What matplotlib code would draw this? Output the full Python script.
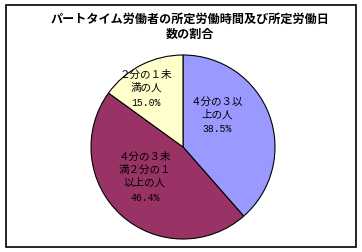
import numpy as np
import matplotlib
matplotlib.use("Agg")
import matplotlib.pyplot as plt
from matplotlib.patches import Rectangle

plt.rcParams["font.family"] = ["Noto Sans CJK JP", "DejaVu Sans"]

TITLE = "パートタイム労働者の所定労働時間及び所定労働日\n数の割合"
LABELS = ["４分の３以\n上の人", "４分の３未\n満２分の１\n以上の人", "２分の１未\n満の人"]
SHARES = [38.5, 46.4, 15.0]
COLORS = ["#9999ff", "#993366", "#ffffcc"]
# label position inside each wedge (radius fraction, angle in degrees)
LABEL_POS = [(0.51, 44), (0.52, 217), (0.76, 122)]

W, H = 362, 253
fig = plt.figure(figsize=(W / 100, H / 100), dpi=100)
fig.patch.set_facecolor("white")
fig.patches.append(Rectangle((5.5 / W, 5.5 / H), 350.5 / W, 242 / H,
                             transform=fig.transFigure, fill=False,
                             edgecolor="black", lw=1.2))

cx, cy, r = 183, 148, 92
ax = fig.add_axes([(cx - r) / W, (H - cy - r) / H, 2 * r / W, 2 * r / H])
ax.pie(SHARES, colors=COLORS, startangle=90, counterclock=False,
       wedgeprops=dict(edgecolor="black", linewidth=0.8))
ax.set_xlim(-1, 1)
ax.set_ylim(-1, 1)

s = 0.152  # one text line in data units
for lab, v, (d, a) in zip(LABELS, SHARES, LABEL_POS):
    x, y = d * np.cos(np.radians(a)), d * np.sin(np.radians(a))
    nl = lab.count("\n") + 1
    ax.text(x, y + s / 2, lab, ha="center", va="center",
            fontsize=7.6, linespacing=1.3, color="black")
    ax.text(x, y - s * nl / 2, f"{v:.1f}%", ha="center",
            va="center", fontsize=7, family="Liberation Mono", color="black")

fig.text(190 / W, 1 - 27 / H, TITLE, ha="center", va="center",
         fontsize=8.7, fontweight="bold", linespacing=1.25)

fig.savefig("out.png", dpi=100)
